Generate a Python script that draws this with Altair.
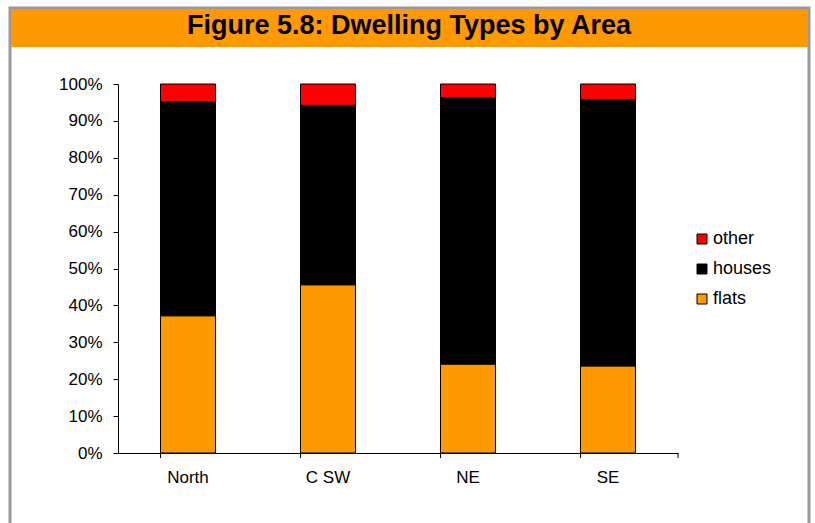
import altair as alt
import pandas as pd

areas = ["North", "C SW", "NE", "SE"]
flats = [37.2, 45.6, 24.1, 23.6]
houses = [58.0, 48.6, 72.2, 72.2]
other = [4.8, 5.8, 3.7, 4.2]
series = ["flats", "houses", "other"]
legend_order = ["other", "houses", "flats"]
colors = ["#FF0000", "#000000", "#FF9900"]
y_ticks = [i / 10 for i in range(11)]
title_text = "Figure 5.8: Dwelling Types by Area"

rows = []
for i, a in enumerate(areas):
    for k, (s, vals) in enumerate(zip(series, [flats, houses, other])):
        rows.append({"area": a, "type": s, "value": vals[i] / 100.0, "ord": k})
df = pd.DataFrame(rows)

W, H = 560, 369
one = pd.DataFrame({"a": [0]})

border = alt.Chart(one).mark_rect(fill=None, stroke="#999999", strokeWidth=3).encode(
    x=alt.value(-108), x2=alt.value(691), y=alt.value(-76), y2=alt.value(470)
)
bar_bg = alt.Chart(one).mark_rect(color="#FF9900").encode(
    x=alt.value(-107), x2=alt.value(690), y=alt.value(-75), y2=alt.value(-37)
)
title = alt.Chart(pd.DataFrame({"t": [title_text]})).mark_text(
    font="Liberation Sans", fontSize=27, fontWeight="bold", color="#000000",
    align="center", baseline="alphabetic"
).encode(text="t:N", x=alt.value(291), y=alt.value(-50))

xscale = alt.Scale(domain=areas, paddingInner=0.607, paddingOuter=0.3035)

bars = alt.Chart(df).mark_bar(stroke="#000000", strokeWidth=1).encode(
    x=alt.X("area:N", sort=areas, scale=xscale,
            axis=alt.Axis(title=None, labelAngle=0, ticks=False, domainColor="#000000",
                          labelFont="Liberation Sans", labelFontSize=17, labelColor="#000000",
                          labelPadding=16)),
    y=alt.Y("value:Q", stack="zero", scale=alt.Scale(domain=[0, 1], nice=False),
            axis=alt.Axis(title=None, values=y_ticks, format=".0%", grid=False,
                          domainColor="#000000", tickColor="#000000", tickSize=5,
                          labelFont="Liberation Sans", labelFontSize=17, labelColor="#000000",
                          labelPadding=11)),
    color=alt.Color("type:N", scale=alt.Scale(domain=legend_order, range=colors),
                    legend=alt.Legend(title=None, orient="none", legendX=575, legendY=146,
                                      symbolType="square", symbolSize=100,
                                      symbolStrokeColor="#000000", symbolStrokeWidth=1,
                                      labelFont="Liberation Sans", labelFontSize=18,
                                      labelColor="#000000", rowPadding=12, labelOffset=2)),
    order=alt.Order("ord:Q"),
)

xticks = alt.Chart(pd.DataFrame({"area": areas})).mark_rule(color="#000000", strokeWidth=1).encode(
    x=alt.X("area:N", sort=areas, scale=xscale, bandPosition=0),
    y=alt.value(H), y2=alt.value(H + 5)
)
last_tick = alt.Chart(one).mark_rule(color="#000000", strokeWidth=1).encode(
    x=alt.value(W), y=alt.value(H), y2=alt.value(H + 5)
)

chart = alt.layer(border, bar_bg, title, bars, xticks, last_tick).properties(
    width=W, height=H,
    autosize=alt.AutoSizeParams(type="none"),
    padding={"left": 118, "top": 84, "right": 137, "bottom": 70},
    background="#FFFFFF",
).configure_view(stroke=None)

chart.save("out.html", embed_options={"renderer": "svg", "actions": False})
